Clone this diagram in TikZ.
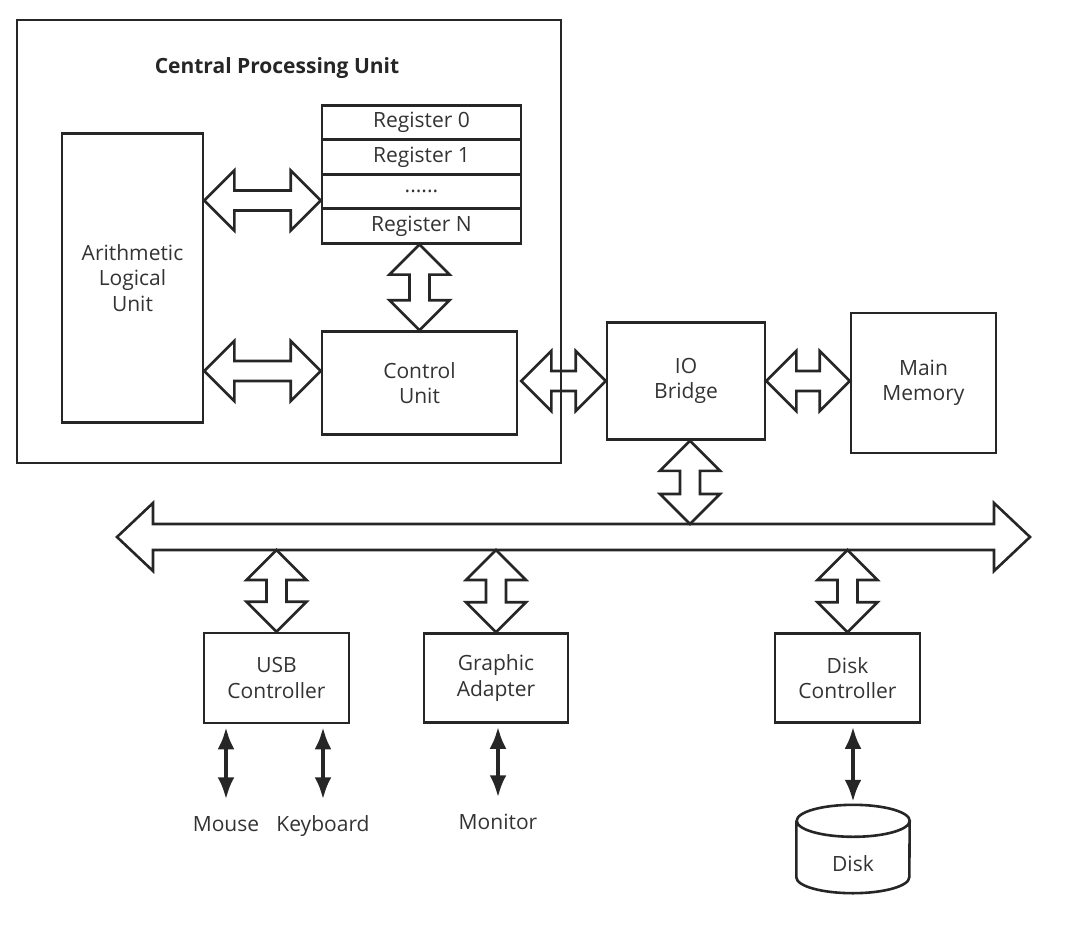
\documentclass[tikz,border=0pt]{standalone}
\usepackage{fontspec}
\setmainfont{Open Sans}
\usetikzlibrary{arrows.meta,calc}

% hollow two-headed arrow: [head length/head half width/shaft half width]{from}{to}
\newcommand{\biarrow}[3][30/30/10]{%
  \foreach \h/\w/\s in {#1}{%
    \draw[bi] (#2) -- ($(#2)!\h pt!(#3)!\w pt!90:(#3)$)
      -- ($(#2)!\h pt!(#3)!\s pt!90:(#3)$)
      -- ($(#3)!\h pt!(#2)!\s pt!-90:(#2)$)
      -- ($(#3)!\h pt!(#2)!\w pt!-90:(#2)$)
      -- (#3)
      -- ($(#3)!\h pt!(#2)!\w pt!90:(#2)$)
      -- ($(#3)!\h pt!(#2)!\s pt!90:(#2)$)
      -- ($(#2)!\h pt!(#3)!\s pt!-90:(#3)$)
      -- ($(#2)!\h pt!(#3)!\w pt!-90:(#3)$)
      -- cycle;}}

\begin{document}
\begin{tikzpicture}[x=1pt, y=-1pt]
    \tikzset{box/.style = {draw=black!85, line width=2.6pt, align=center, text=black!80,
                           font=\fontsize{21}{25.5}\selectfont, inner sep=0pt}}
    \tikzset{reg/.style = {box, minimum width=199, minimum height=34.5}}
    \tikzset{bi/.style = {draw=black!85, line width=2.6pt, line join=miter}}
    \tikzset{io/.style = {draw=black!85, line width=4pt,
                          {Latex[length=22pt,width=17pt]}-{Latex[length=22pt,width=17pt]}}}
    \tikzset{lbl/.style = {text=black!80, font=\fontsize{21}{25.5}\selectfont,
                           text height=15pt, text depth=4pt, inner sep=3pt}}

    \useasboundingbox (0,0) rectangle (1068,924);

    % cpu
    \node[box, minimum width=544, minimum height=443] (cpu) at (289,241.5) {};
    \node[text=black!85, font=\fontsize{21}{25}\selectfont\bfseries] (cputitle) at (277,68) {Central Processing Unit};
    \node[box, minimum width=141, minimum height=289] (alu) at (132.5,278) {Arithmetic\\Logical\\Unit};
    \node[reg] (reg0) at (421.5,122.5) {Register 0};
    \node[reg] (reg1) at (421.5,157) {Register 1};
    \node[reg] (regdots) at (421.5,191.5) {......};
    \node[reg] (regN) at (421.5,226) {Register N};
    \node[box, minimum width=195, minimum height=103] (ctrl) at (419.5,383) {Control\\Unit};

    % bridge and memory
    \node[box, minimum width=158, minimum height=117] (io) at (686,381) {IO\\Bridge};
    \node[box, minimum width=145, minimum height=140] (mem) at (923.5,383) {Main\\Memory};

    % controllers
    \node[box, minimum width=145, minimum height=90] (usb) at (276.5,678) {USB\\Controller};
    \node[box, minimum width=144, minimum height=89] (gpu) at (496,678) {Graphic\\Adapter};
    \node[box, minimum width=145, minimum height=89] (dc) at (847.5,678) {Disk\\Controller};

    % devices
    \node[lbl] (mouse) at (226,826) {Mouse};
    \node[lbl] (kbd) at (323,826) {Keyboard};
    \node[lbl] (mon) at (498,824) {Monitor};
    \node[minimum width=113, minimum height=88, inner sep=0pt] (disk) at (853,849) {};
    \node[lbl] (disklbl) at (853,866) {Disk};
    \draw[bi] ([yshift=-16pt]disk.north west) -- ([yshift=16pt]disk.south west)
        arc[start angle=180, end angle=360, x radius=56.5pt, y radius=16pt]
        -- ([yshift=-16pt]disk.north east)
        arc[start angle=0, end angle=360, x radius=56.5pt, y radius=16pt];

    % bus
    \coordinate (busL) at (117,537);
    \coordinate (busR) at (1030,537);
    \coordinate (bustop) at (0,524);
    \coordinate (busbot) at (0,550);

    % inner connections
    \coordinate (aluA) at ($(alu.east |- regdots.west)+(0,9)$);
    \coordinate (regA) at ($(regdots.west)+(0,9)$);
    \coordinate (aluB) at ($(alu.east |- ctrl.west)+(0,-12)$);
    \coordinate (ctrlB) at ($(ctrl.west)+(0,-12)$);
    \coordinate (regC) at (ctrl.north |- regN.south);
    \coordinate (ctrlE) at ($(ctrl.east)+(3,-2)$);
    \coordinate (ioW) at (io.west |- ctrlE);
    \coordinate (ioE) at (io.east |- ctrlE);
    \coordinate (memW) at (mem.west |- ctrlE);
    \coordinate (ioS) at ($(io.south)+(4,0)$);
    \coordinate (ioBus) at (ioS |- bustop);
    \coordinate (usbBus) at (usb.north |- busbot);
    \coordinate (gpuBus) at (gpu.north |- busbot);
    \coordinate (dcBus) at (dc.north |- busbot);

    % edges
    \biarrow{aluA}{regA}
    \biarrow{aluB}{ctrlB}
    \biarrow{regC}{ctrl.north}
    \biarrow{ctrlE}{ioW}
    \biarrow{ioE}{memW}
    \biarrow[36/34/13]{busL}{busR}
    \biarrow{ioS}{ioBus}
    \biarrow{usbBus}{usb.north}
    \biarrow{gpuBus}{gpu.north}
    \biarrow{dcBus}{dc.north}

    \draw[io, shorten <=3pt, shorten >=14pt] (usb.south -| mouse) -- (mouse.north);
    \draw[io, shorten <=3pt, shorten >=14pt] (usb.south -| kbd) -- (kbd.north);
    \draw[io, shorten <=3pt, shorten >=14pt] (gpu.south -| mon) -- (mon.north);
    \draw[io, shorten <=3pt, shorten >=3pt] (dc.south -| disk) -- (disk.north);
\end{tikzpicture}
\end{document}
